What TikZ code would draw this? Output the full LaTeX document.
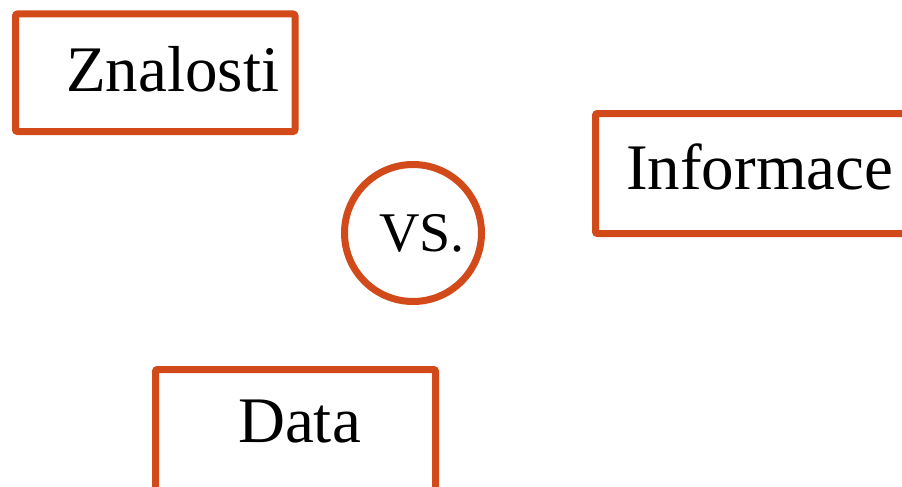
\documentclass[tikz,border=0pt]{standalone}
\usepackage{fontspec}
\setmainfont{Liberation Serif}
\usetikzlibrary{positioning}
\definecolor{dkorange}{RGB}{210,74,26}

\begin{document}
\begin{tikzpicture}[
    x=1pt, y=-1pt,
    frame/.style={draw=dkorange,line width=7pt,rounded corners=2pt,inner sep=0pt},
    word/.style={font=\fontsize{65}{72}\selectfont,inner sep=0pt,anchor=base west}
  ]
    \useasboundingbox (0,0) rectangle (902,487);
    \clip (0,0) rectangle (902,487);
    % frames
    \node[frame,minimum width=279.5pt,minimum height=117.5pt] (znalosti) at (155.25,72.75) {};
    \node[frame,minimum width=340pt,minimum height=120pt] (informace) at (765.5,173.5) {};
    \node[frame,minimum width=280pt,minimum height=150pt] (data) at (295.5,444.5) {};
    \node[frame,circle,minimum size=137pt] (vs) at (413,233) {};
    % texts
    \node[word] (tznalosti) at (66,92) {Znalosti};
    \node[word] (tinformace) at (626,189) {Informace};
    \node[word] (tdata) at (238,442) {Data};
    \node[word,font=\fontsize{56}{62}\selectfont] (tvs) at (379,251) {VS.};
  \end{tikzpicture}
\end{document}
